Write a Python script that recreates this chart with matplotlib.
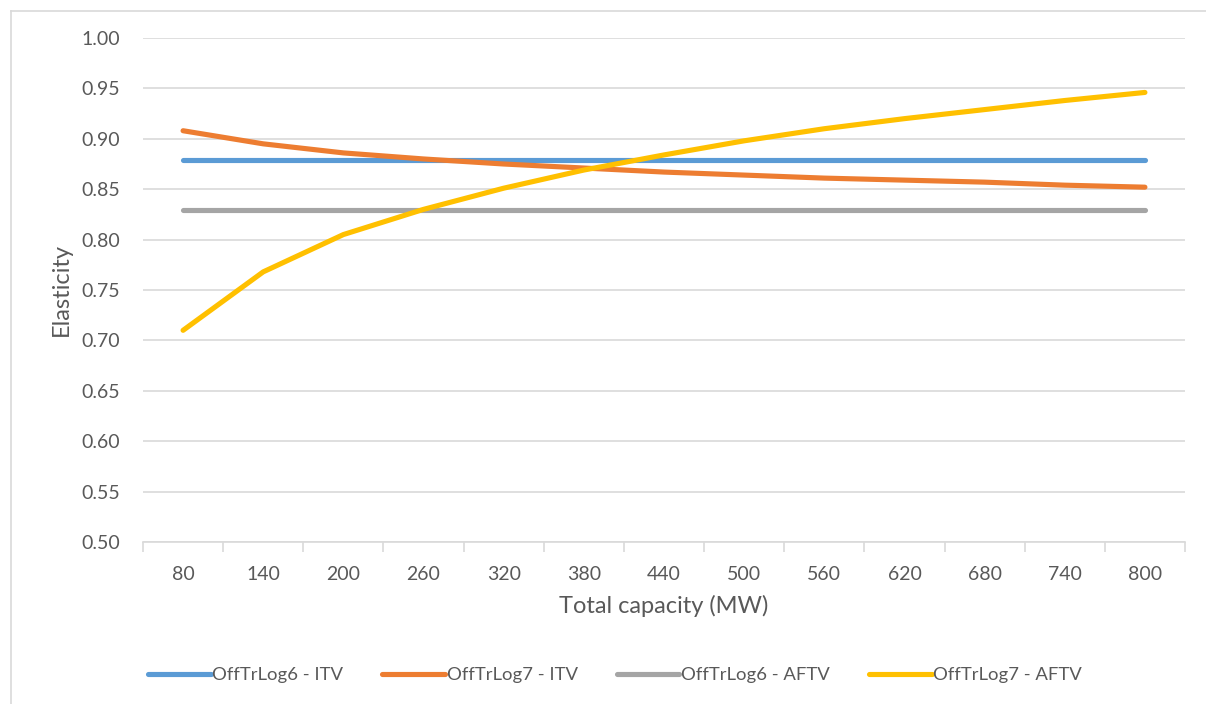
import matplotlib
matplotlib.use("Agg")
import matplotlib.pyplot as plt
from matplotlib.lines import Line2D

plt.rcParams['font.family'] = ['Lato', 'DejaVu Sans']

categories = ["80", "140", "200", "260", "320", "380", "440", "500", "560", "620", "680", "740", "800"]
series_names = ["OffTrLog6 - ITV", "OffTrLog7 - ITV", "OffTrLog6 - AFTV", "OffTrLog7 - AFTV"]
log6_itv = [0.879] * 13
log7_itv = [0.908, 0.895, 0.886, 0.880, 0.875, 0.871, 0.867, 0.864, 0.861, 0.859, 0.857, 0.854, 0.852]
log6_aftv = [0.829] * 13
log7_aftv = [0.710, 0.768, 0.805, 0.830, 0.851, 0.869, 0.884, 0.898, 0.910, 0.920, 0.929, 0.938, 0.946]
colors = ["#5B9BD5", "#ED7D31", "#A5A5A5", "#FFC000"]
yticks = [0.50, 0.55, 0.60, 0.65, 0.70, 0.75, 0.80, 0.85, 0.90, 0.95, 1.00]

fig = plt.figure(figsize=(12.06, 7.04), dpi=100)
ax = fig.add_axes([143/1206, 1-542/704, (1185-143)/1206, (542-38)/704])

x = list(range(len(categories)))
for vals, c, name in zip([log6_itv, log7_itv, log6_aftv, log7_aftv], colors, series_names):
    ax.plot(x, vals, color=c, lw=3.7, solid_capstyle='round', solid_joinstyle='round', label=name, zorder=3)

ax.set_xlim(-0.5, len(categories) - 0.5)
ax.set_ylim(0.5, 1.0)
ax.set_yticks(yticks)
ax.set_yticklabels([f"{v:.2f}" for v in yticks])
ax.set_xticks(x)
ax.set_xticklabels(categories)
ax.set_xticks([i - 0.5 for i in range(len(categories) + 1)], minor=True)

ax.grid(axis='y', color='#D9D9D9', lw=1.2, zorder=0)
ax.set_axisbelow(True)
for s in ['top', 'right', 'left']:
    ax.spines[s].set_visible(False)
ax.spines['bottom'].set_color('#D9D9D9')
ax.spines['bottom'].set_linewidth(1.2)

ax.tick_params(axis='y', length=0, pad=16.5, labelsize=14, labelcolor='#595959')
ax.tick_params(axis='x', which='major', length=0, pad=17, labelsize=14, labelcolor='#595959')
ax.tick_params(axis='x', which='minor', length=7, width=1.2, color='#D9D9D9')

ax.set_xlabel("Total capacity (MW)", fontsize=17, color='#595959', labelpad=9)
ax.set_ylabel("Elasticity", fontsize=17, color='#595959', labelpad=7)

handles = [Line2D([0], [0], color=c, lw=3.7, solid_capstyle='round') for c in colors]
fig.legend(handles, series_names, loc='center', bbox_to_anchor=(615/1206, 1-675/704), ncol=4,
           frameon=False, fontsize=13.3, handlelength=3.4, handletextpad=0.1, columnspacing=2.1,
           labelcolor='#595959')

# outer chart border (top and left visible)
fig.add_artist(Line2D([10.5/1206, 1.0], [1-10.5/704, 1-10.5/704], color='#D9D9D9', lw=1.2))
fig.add_artist(Line2D([10.5/1206, 10.5/1206], [0.0, 1-10.5/704], color='#D9D9D9', lw=1.2))

fig.savefig("out.png", dpi=100, facecolor='white')
